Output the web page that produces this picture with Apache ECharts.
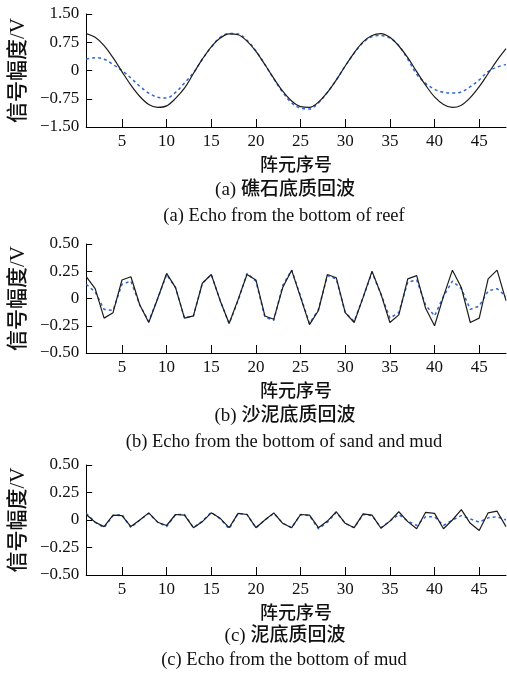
<!DOCTYPE html>
<html>
<head>
<meta charset="utf-8">
<script src="https://cdn.jsdelivr.net/npm/echarts@6/dist/echarts.min.js"></script>
<style>
html,body{margin:0;padding:0;background:#fff;}
#chart{width:507px;height:678px;}
</style>
</head>
<body>
<div id="chart"></div>
<script>
// element index 1..48
const elements = Array.from({length: 48}, (_, i) => i + 1);

// (a) reef
const reefMeasured = [0.98,0.88,0.66,0.34,-0.03,-0.39,-0.69,-0.90,-0.98,-0.94,-0.74,-0.47,-0.08,0.30,0.63,0.86,0.97,0.95,0.78,0.51,0.16,-0.21,-0.55,-0.81,-0.96,-0.98,-0.84,-0.58,-0.25,0.12,0.47,0.76,0.93,0.98,0.88,0.65,0.34,-0.03,-0.39,-0.70,-0.90,-0.98,-0.92,-0.72,-0.43,-0.08,0.27,0.58];
const reefModel = [0.30,0.34,0.30,0.16,0.00,-0.20,-0.42,-0.60,-0.71,-0.73,-0.58,-0.33,-0.06,0.30,0.62,0.88,0.98,0.97,0.80,0.52,0.16,-0.22,-0.58,-0.86,-1.00,-1.02,-0.86,-0.58,-0.25,0.12,0.46,0.74,0.90,0.93,0.86,0.66,0.30,-0.10,-0.34,-0.50,-0.58,-0.60,-0.57,-0.43,-0.25,-0.03,0.09,0.16];

// (b) sand and mud
const sandMeasured = [0.20,0.09,-0.18,-0.13,0.17,0.20,-0.06,-0.22,0.00,0.23,0.10,-0.18,-0.16,0.14,0.22,-0.02,-0.23,-0.01,0.22,0.17,-0.16,-0.19,0.10,0.26,0.01,-0.24,-0.11,0.22,0.19,-0.13,-0.22,0.01,0.25,0.04,-0.22,-0.15,0.18,0.21,-0.09,-0.25,0.02,0.26,0.10,-0.22,-0.18,0.18,0.26,-0.02];
const sandModel = [0.13,0.06,-0.10,-0.11,0.13,0.16,-0.06,-0.21,0.00,0.22,0.10,-0.18,-0.16,0.14,0.22,-0.02,-0.23,-0.02,0.23,0.16,-0.17,-0.20,0.12,0.26,0.02,-0.23,-0.10,0.21,0.18,-0.13,-0.21,0.01,0.24,0.04,-0.18,-0.13,0.15,0.17,-0.06,-0.16,0.02,0.16,0.09,-0.10,-0.07,0.07,0.09,0.02];

// (c) mud
const mudMeasured = [0.05,-0.02,-0.06,0.045,0.04,-0.06,0.00,0.065,-0.02,-0.05,0.05,0.045,-0.07,-0.015,0.065,0.015,-0.07,0.06,0.05,-0.07,0.00,0.065,-0.03,-0.07,0.05,0.045,-0.07,-0.01,0.075,-0.03,-0.07,0.055,0.045,-0.075,-0.01,0.075,-0.015,-0.08,0.07,0.06,-0.08,0.00,0.095,-0.03,-0.095,0.065,0.08,-0.06];
const mudModel = [0.06,-0.02,-0.07,0.04,0.05,-0.07,0.00,0.06,-0.02,-0.06,0.05,0.05,-0.07,-0.01,0.07,0.01,-0.08,0.06,0.05,-0.07,0.00,0.06,-0.03,-0.07,0.05,0.04,-0.08,-0.02,0.07,-0.03,-0.07,0.05,0.04,-0.07,-0.01,0.05,-0.01,-0.05,0.03,0.03,-0.05,0.00,0.04,0.01,-0.02,0.02,0.03,0.00];

const xTicks = [5,10,15,20,25,30,35,40,45];

const xName = '阵元序号';
const yName = '信号幅度/V';
const captionsCn = ['(a) 礁石底质回波','(b) 沙泥底质回波','(c) 泥底质回波'];
const captionsEn = ['(a) Echo from the bottom of reef','(b) Echo from the bottom of sand and mud','(c) Echo from the bottom of mud'];

const FONT = '"Liberation Serif","Noto Sans CJK SC",serif';
const CJK = '"Liberation Serif","Noto Sans CJK SC",sans-serif';

function fmtY(v){
  if (Math.abs(v) < 1e-9) return '0';
  const s = Math.abs(v).toFixed(2);
  return (v < 0 ? '\u2212' : '') + s;
}

const grids = [
  {left:79, width:427, top:14, height:113},
  {left:79, width:427, top:244, height:109},
  {left:79, width:427, top:465, height:110}
];
const yRanges = [[-1.5,1.5,0.75],[-0.5,0.5,0.25],[-0.5,0.5,0.25]];
const measured = [reefMeasured, sandMeasured, mudMeasured];
const model = [reefModel, sandModel, mudModel];
const smoothing = [0.35, false, false];

const xAxes = grids.map((g,i)=>({
  type:'value', gridIndex:i, min:1, max:48,
  name:xName, nameLocation:'middle', nameGap:30,
  nameTextStyle:{fontFamily:CJK, fontSize:18, fontWeight:500, color:'#111'},
  axisLine:{show:true, onZero:false, lineStyle:{color:'#000', width:1}},
  axisTick:{show:true, inside:true, length:8, customValues:xTicks, lineStyle:{color:'#000'}},
  axisLabel:{customValues:xTicks, margin:6, fontFamily:FONT, fontSize:17, color:'#111'},
  splitLine:{show:false}
}));
const yAxes = grids.map((g,i)=>({
  type:'value', gridIndex:i, min:yRanges[i][0], max:yRanges[i][1], interval:yRanges[i][2],
  name:yName, nameLocation:'middle', nameGap:52, nameRotate:90,
  nameTextStyle:{fontFamily:CJK, fontSize:21, fontWeight:500, color:'#111'},
  axisLine:{show:true, lineStyle:{color:'#000', width:1}},
  axisTick:{show:true, inside:true, length:6, lineStyle:{color:'#000'}},
  axisLabel:{margin:7, fontFamily:FONT, fontSize:17, color:'#111', formatter:fmtY},
  splitLine:{show:false}
}));

const series = [];
for (let i=0;i<3;i++){
  series.push({
    type:'line', xAxisIndex:i, yAxisIndex:i, symbol:'none', z:2, smooth:smoothing[i],
    data: elements.map((x,k)=>[x, model[i][k]]),
    lineStyle:{color:'#2f66d0', width:1.5, type:[3,3]}
  });
  series.push({
    type:'line', xAxisIndex:i, yAxisIndex:i, symbol:'none', z:3, smooth:smoothing[i],
    data: elements.map((x,k)=>[x, measured[i][k]]),
    lineStyle:{color:'#1c1c1c', width:1.2}
  });
}

const capY = [[190,216],[416,442],[636,660]];
const graphic = [];
for (let i=0;i<3;i++){
  graphic.push({type:'text', x:285, y:capY[i][0], style:{text:captionsCn[i], font:'500 19px '+CJK, fill:'#111', textAlign:'center', textVerticalAlign:'middle'}});
  graphic.push({type:'text', x:284, y:capY[i][1], style:{text:captionsEn[i], font:'18.5px '+FONT, fill:'#111', textAlign:'center', textVerticalAlign:'middle'}});
}

const chart = echarts.init(document.getElementById('chart'), null, {renderer:'canvas'});
chart.setOption({
  animation:false,
  backgroundColor:'#fff',
  grid:grids,
  xAxis:xAxes,
  yAxis:yAxes,
  series:series,
  graphic:graphic
});
</script>
</body>
</html>
